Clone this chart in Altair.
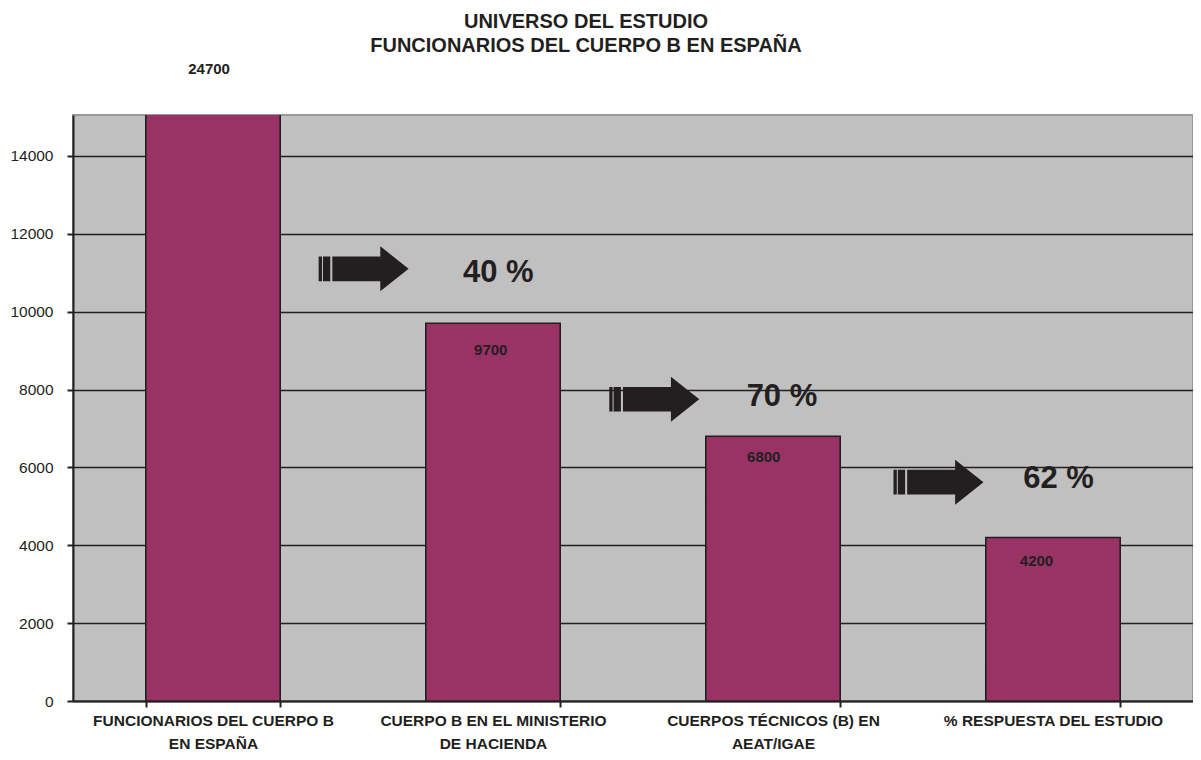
import altair as alt
import pandas as pd

# ---------------- data ----------------
categories = [
    "FUNCIONARIOS DEL CUERPO B|EN ESPAÑA",
    "CUERPO B EN EL MINISTERIO|DE HACIENDA",
    "CUERPOS TÉCNICOS (B)  EN|AEAT/IGAE",
    "% RESPUESTA DEL ESTUDIO",
]
values = [24700, 9700, 6800, 4200]
value_labels = ["24700", "9700", "6800", "4200"]
# label anchors, in category units (x) and value units (y)
label_x = [0.486, 1.492, 2.467, 3.441]
label_y = [16230, 9010, 6270, 3600]

pct_labels = ["40 %", "70 %", "62 %"]
arrow_x = [1.038, 2.076, 3.091]
arrow_y = [11100, 7750, 5620]
pct_x = [1.519, 2.532, 3.520]
pct_y = [11000, 7800, 5690]

y_ticks = [0, 2000, 4000, 6000, 8000, 10000, 12000, 14000]
y_max = 15050

# ---------------- style ----------------
FONT = "Liberation Sans"
INK = "#231F20"
BAR = "#993366"
W, H = 1120, 586

ARROW = ("M -1 -0.274 L -0.926 -0.274 L -0.926 0.274 L -1 0.274 Z "
         "M -0.904 -0.274 L -0.741 -0.274 L -0.741 0.274 L -0.904 0.274 Z "
         "M -0.696 -0.274 L 0.37 -0.274 L 0.37 -0.5 L 1 0 L 0.37 0.5 "
         "L 0.37 0.274 L -0.696 0.274 Z")

bars_df = pd.DataFrame({"cat": categories, "value": values})
lab_df = pd.DataFrame({"pos": label_x, "value": label_y, "text": value_labels})
arrow_df = pd.DataFrame({"pos": arrow_x, "value": arrow_y})
pct_df = pd.DataFrame({"pos": pct_x, "value": pct_y, "text": pct_labels})

y_enc = alt.Y(
    "value:Q",
    scale=alt.Scale(domain=[0, y_max], nice=False, zero=True),
    axis=alt.Axis(
        title=None, values=y_ticks, format="d", labelFont=FONT,
        labelFontSize=15.5, labelColor=INK, labelPadding=14, tickSize=6,
        tickColor=INK, tickWidth=2, domainColor=INK, domainWidth=2,
        grid=True, gridColor=INK, gridWidth=1.6, gridOpacity=1,
    ),
)

x_band = alt.X(
    "cat:N", sort=categories,
    scale=alt.Scale(paddingInner=0.52, paddingOuter=0.26),
    axis=alt.Axis(
        title=None, labelExpr="split(datum.label, '|')", labelFont=FONT,
        labelFontSize=15.5, labelFontWeight="bold", labelColor=INK,
        labelLineHeight=23, labelLimit=600, labelPadding=6, labelAngle=0,
        tickBand="extent", tickSize=6, tickColor=INK, tickWidth=2,
        domainColor=INK, domainWidth=2, grid=False,
    ),
)


def xq():
    return alt.X("pos:Q", scale=alt.Scale(domain=[0, 4], nice=False, zero=False), axis=None)


bars = alt.Chart(bars_df).mark_bar(
    color=BAR, stroke=INK, strokeWidth=1.6, clip=True
).encode(x=x_band, y=y_enc)

val_text = alt.Chart(lab_df).mark_text(
    font=FONT, fontSize=15, fontWeight="bold", color=INK,
    align="center", baseline="middle",
).encode(x=xq(), y=y_enc, text="text:N")

arrows = alt.Chart(arrow_df).mark_point(
    shape=ARROW, filled=True, size=8100, color=INK, opacity=1, strokeWidth=0,
).encode(x=xq(), y=y_enc)

pct_text = alt.Chart(pct_df).mark_text(
    font=FONT, fontSize=31, fontWeight="bold", color=INK,
    align="center", baseline="middle",
).encode(x=xq(), y=y_enc, text="text:N")

chart = (
    alt.layer(bars, val_text, arrows, pct_text)
    .resolve_scale(x="independent")
    .properties(
        width=W, height=H,
        title=alt.TitleParams(
            text=["UNIVERSO DEL ESTUDIO", "FUNCIONARIOS DEL CUERPO B EN ESPAÑA"],
            font=FONT, fontSize=20, fontWeight="bold", color=INK,
            anchor="middle", baseline="bottom", dx=-47, offset=-14,
            lineHeight=24,
        ),
        autosize=alt.AutoSizeParams(type="none"),
        padding={"left": 65, "top": 107, "right": 0, "bottom": 51},
        background="white",
    )
    .configure_view(fill="#C0C0C0", stroke="#9A9A9A", strokeWidth=2)
)

chart.save("out.html", embed_options={"renderer": "svg", "actions": False})
